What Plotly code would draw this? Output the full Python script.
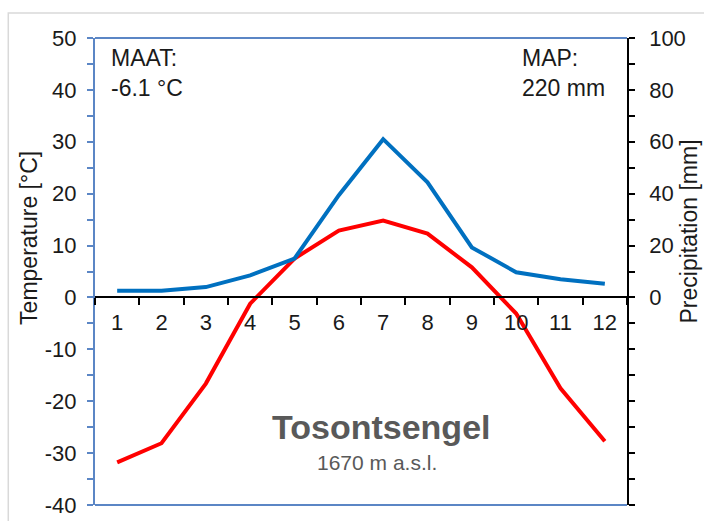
import plotly.graph_objects as go

# Monthly climate normals for Tosontsengel
months = [1, 2, 3, 4, 5, 6, 7, 8, 9, 10, 11, 12]
temperature_c = [-31.8, -28.1, -16.6, -1.2, 7.5, 12.9, 14.8, 12.3, 5.8, -3.1, -17.5, -27.7]
precip_mm = [2.6, 2.6, 4.0, 8.5, 15.0, 39.4, 61.0, 44.4, 19.3, 9.7, 7.0, 5.3]

station = "Tosontsengel"
elevation = "1670 m a.s.l."
maat_text = "MAAT:<br>-6.1 °C"
map_text = "MAP:<br>220 mm"

temp_ticks = list(range(-40, 51, 5))
temp_labels = [str(v) if v % 10 == 0 else "" for v in temp_ticks]
precip_ticks = list(range(-80, 101, 10))
precip_labels = [str(v) if (v >= 0 and v % 20 == 0) else "" for v in precip_ticks]

FONT = "Liberation Sans, Arial, sans-serif"
AXIS_BLUE = "#5B86C5"
TEXT = "#1a1a1a"

fig = go.Figure()
fig.add_trace(go.Scatter(x=months, y=precip_mm, yaxis="y2", mode="lines",
                         line=dict(color="#0070C0", width=4), showlegend=False))
fig.add_trace(go.Scatter(x=months, y=temperature_c, mode="lines",
                         line=dict(color="#FF0000", width=4), showlegend=False))

fig.update_layout(
    width=704, height=521,
    margin=dict(l=95, r=77, t=38, b=16),
    paper_bgcolor="white", plot_bgcolor="white",
    font=dict(family=FONT, size=22, color=TEXT),
    xaxis=dict(
        range=[0.5, 12.5], tickvals=months, ticktext=[str(m) for m in months],
        ticks="", showgrid=False, zeroline=False, automargin=False,
        showline=True, linecolor="black", linewidth=1.5,
        anchor="free", position=40 / 90,
        minor=dict(tick0=0.5, dtick=1, ticks="outside", ticklen=7,
                   tickcolor="black", tickwidth=1.5, showgrid=False),
        ticklabelstandoff=5,
    ),
    yaxis=dict(
        range=[-40, 50], tickvals=temp_ticks, ticktext=temp_labels,
        ticks="outside", ticklen=6, tickcolor=AXIS_BLUE, tickwidth=1.5,
        showline=True, linecolor=AXIS_BLUE, linewidth=2, automargin=False,
        showgrid=False, zeroline=False, ticklabelstandoff=6,
    ),
    yaxis2=dict(
        range=[-80, 100], tickvals=precip_ticks, ticktext=precip_labels,
        overlaying="y", side="right", automargin=False,
        ticks="outside", ticklen=6, tickcolor="black", tickwidth=1.5,
        showline=True, linecolor="black", linewidth=1.5,
        showgrid=False, zeroline=False, ticklabelstandoff=10,
    ),
    shapes=[
        # outer chart frame
        dict(type="rect", xref="paper", yref="paper", x0=-0.163, x1=1.3, y0=-0.3, y1=1.0535,
             line=dict(color="#D9D9D9", width=1.5), layer="below"),
        # top and bottom borders of the plot area
        dict(type="line", xref="paper", yref="paper", x0=0, x1=1, y0=1, y1=1,
             line=dict(color=AXIS_BLUE, width=2)),
        dict(type="line", xref="paper", yref="paper", x0=0, x1=1, y0=0, y1=0,
             line=dict(color=AXIS_BLUE, width=2)),
    ],
    annotations=[
        dict(text=maat_text, xref="paper", yref="paper", x=0.026, y=0.99,
             xanchor="left", yanchor="top", align="left", showarrow=False,
             font=dict(size=23, color=TEXT)),
        dict(text=map_text, xref="paper", yref="paper", x=0.962, y=0.99,
             xanchor="right", yanchor="top", align="left", showarrow=False,
             font=dict(size=23, color=TEXT)),
        dict(text=f"<b>{station}</b>", xref="paper", yref="paper", x=0.538, y=0.167,
             xanchor="center", yanchor="middle", showarrow=False,
             font=dict(size=34, color="#595959")),
        dict(text=elevation, xref="paper", yref="paper", x=0.53, y=0.09,
             xanchor="center", yanchor="middle", showarrow=False,
             font=dict(size=21, color="#595959")),
        dict(text="Temperature [°C]", xref="paper", yref="paper", x=-0.124, y=0.572,
             xanchor="center", yanchor="middle", textangle=-90, showarrow=False,
             font=dict(size=23, color=TEXT)),
        dict(text="Precipitation [mm]", xref="paper", yref="paper", x=1.116, y=0.585,
             xanchor="center", yanchor="middle", textangle=-90, showarrow=False,
             font=dict(size=23, color=TEXT)),
    ],
)

fig.write_html("out.html")
